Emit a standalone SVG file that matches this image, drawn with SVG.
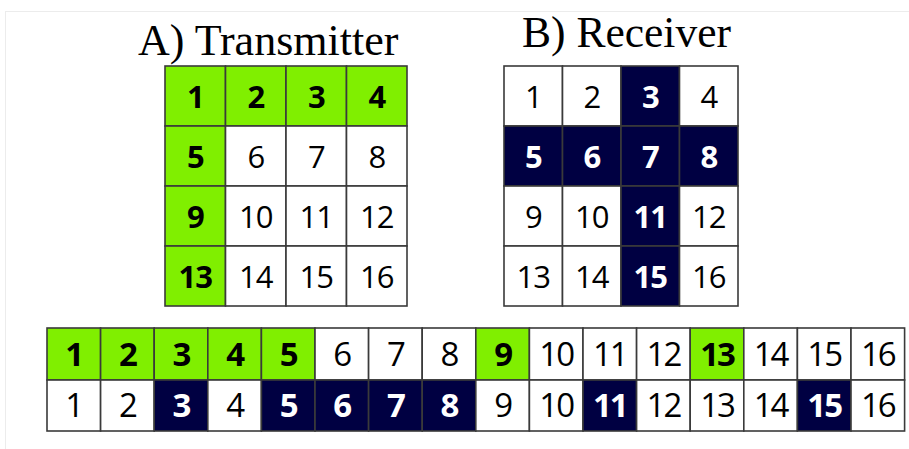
<svg xmlns="http://www.w3.org/2000/svg" width="909" height="449" viewBox="0 0 909 449">
<style>
.frame{fill:none;stroke:#ececec;stroke-width:1}
.title{font-family:"Liberation Serif","Times New Roman",serif;font-size:44px;fill:#000}
.c{stroke:#3a3a3a;stroke-width:1.6}
.w{fill:#ffffff}
.g{fill:#80ef00}
.n{fill:#000042}
.t{font-family:"Open Sans","Noto Sans",sans-serif;text-anchor:middle;fill:#000}
.tb{font-weight:bold}
.tw{fill:#ffffff;font-weight:bold}
.s32{font-size:31px;letter-spacing:-1px}
.s34{font-size:33px;letter-spacing:-2px}
</style>
<rect class="frame" x="5.5" y="11.5" width="910" height="450"/>
<text class="title" x="138" y="55">A) Transmitter</text>
<text class="title" x="522" y="47" style="font-size:43.5px">B) Receiver</text>

<g id="transmitter">
<rect class="c g" x="165" y="66" width="60.5" height="60"/><text class="t tb s32" x="195.3" y="108">1</text>
<rect class="c g" x="225.5" y="66" width="60.5" height="60"/><text class="t tb s32" x="255.8" y="108">2</text>
<rect class="c g" x="286" y="66" width="60.5" height="60"/><text class="t tb s32" x="316.3" y="108">3</text>
<rect class="c g" x="346.5" y="66" width="60.5" height="60"/><text class="t tb s32" x="376.8" y="108">4</text>
<rect class="c g" x="165" y="126" width="60.5" height="60"/><text class="t tb s32" x="195.3" y="168">5</text>
<rect class="c w" x="225.5" y="126" width="60.5" height="60"/><text class="t s32" x="255.8" y="168">6</text>
<rect class="c w" x="286" y="126" width="60.5" height="60"/><text class="t s32" x="316.3" y="168">7</text>
<rect class="c w" x="346.5" y="126" width="60.5" height="60"/><text class="t s32" x="376.8" y="168">8</text>
<rect class="c g" x="165" y="186" width="60.5" height="60"/><text class="t tb s32" x="195.3" y="228">9</text>
<rect class="c w" x="225.5" y="186" width="60.5" height="60"/><text class="t s32" x="255.8" y="228">10</text>
<rect class="c w" x="286" y="186" width="60.5" height="60"/><text class="t s32" x="316.3" y="228">11</text>
<rect class="c w" x="346.5" y="186" width="60.5" height="60"/><text class="t s32" x="376.8" y="228">12</text>
<rect class="c g" x="165" y="246" width="60.5" height="60"/><text class="t tb s32" x="195.3" y="288">13</text>
<rect class="c w" x="225.5" y="246" width="60.5" height="60"/><text class="t s32" x="255.8" y="288">14</text>
<rect class="c w" x="286" y="246" width="60.5" height="60"/><text class="t s32" x="316.3" y="288">15</text>
<rect class="c w" x="346.5" y="246" width="60.5" height="60"/><text class="t s32" x="376.8" y="288">16</text>
</g>

<g id="receiver">
<rect class="c w" x="504" y="66" width="58.5" height="60"/><text class="t s32" x="533.3" y="108">1</text>
<rect class="c w" x="562.5" y="66" width="58.5" height="60"/><text class="t s32" x="591.8" y="108">2</text>
<rect class="c n" x="621" y="66" width="58.5" height="60"/><text class="t tw s32" x="650.3" y="108">3</text>
<rect class="c w" x="679.5" y="66" width="58.5" height="60"/><text class="t s32" x="708.8" y="108">4</text>
<rect class="c n" x="504" y="126" width="58.5" height="60"/><text class="t tw s32" x="533.3" y="168">5</text>
<rect class="c n" x="562.5" y="126" width="58.5" height="60"/><text class="t tw s32" x="591.8" y="168">6</text>
<rect class="c n" x="621" y="126" width="58.5" height="60"/><text class="t tw s32" x="650.3" y="168">7</text>
<rect class="c n" x="679.5" y="126" width="58.5" height="60"/><text class="t tw s32" x="708.8" y="168">8</text>
<rect class="c w" x="504" y="186" width="58.5" height="60"/><text class="t s32" x="533.3" y="228">9</text>
<rect class="c w" x="562.5" y="186" width="58.5" height="60"/><text class="t s32" x="591.8" y="228">10</text>
<rect class="c n" x="621" y="186" width="58.5" height="60"/><text class="t tw s32" x="650.3" y="228">11</text>
<rect class="c w" x="679.5" y="186" width="58.5" height="60"/><text class="t s32" x="708.8" y="228">12</text>
<rect class="c w" x="504" y="246" width="58.5" height="60"/><text class="t s32" x="533.3" y="288">13</text>
<rect class="c w" x="562.5" y="246" width="58.5" height="60"/><text class="t s32" x="591.8" y="288">14</text>
<rect class="c n" x="621" y="246" width="58.5" height="60"/><text class="t tw s32" x="650.3" y="288">15</text>
<rect class="c w" x="679.5" y="246" width="58.5" height="60"/><text class="t s32" x="708.8" y="288">16</text>
</g>

<g id="tx-sequence">
<rect class="c g" x="47" y="328" width="53.6" height="52"/><text class="t tb s34" x="73.8" y="366">1</text>
<rect class="c g" x="100.6" y="328" width="53.6" height="52"/><text class="t tb s34" x="127.4" y="366">2</text>
<rect class="c g" x="154.2" y="328" width="53.6" height="52"/><text class="t tb s34" x="181" y="366">3</text>
<rect class="c g" x="207.8" y="328" width="53.6" height="52"/><text class="t tb s34" x="234.6" y="366">4</text>
<rect class="c g" x="261.4" y="328" width="53.6" height="52"/><text class="t tb s34" x="288.2" y="366">5</text>
<rect class="c w" x="315" y="328" width="53.6" height="52"/><text class="t s34" x="341.8" y="366">6</text>
<rect class="c w" x="368.6" y="328" width="53.6" height="52"/><text class="t s34" x="395.4" y="366">7</text>
<rect class="c w" x="422.2" y="328" width="53.6" height="52"/><text class="t s34" x="449" y="366">8</text>
<rect class="c g" x="475.8" y="328" width="53.6" height="52"/><text class="t tb s34" x="502.6" y="366">9</text>
<rect class="c w" x="529.4" y="328" width="53.6" height="52"/><text class="t s34" x="556.2" y="366">10</text>
<rect class="c w" x="583" y="328" width="53.6" height="52"/><text class="t s34" x="609.8" y="366">11</text>
<rect class="c w" x="636.6" y="328" width="53.6" height="52"/><text class="t s34" x="663.4" y="366">12</text>
<rect class="c g" x="690.2" y="328" width="53.6" height="52"/><text class="t tb s34" x="717" y="366">13</text>
<rect class="c w" x="743.8" y="328" width="53.6" height="52"/><text class="t s34" x="770.6" y="366">14</text>
<rect class="c w" x="797.4" y="328" width="53.6" height="52"/><text class="t s34" x="824.2" y="366">15</text>
<rect class="c w" x="851" y="328" width="53.6" height="52"/><text class="t s34" x="877.8" y="366">16</text>
</g>

<g id="rx-sequence">
<rect class="c w" x="47" y="380" width="53.6" height="51"/><text class="t s34" x="73.8" y="417">1</text>
<rect class="c w" x="100.6" y="380" width="53.6" height="51"/><text class="t s34" x="127.4" y="417">2</text>
<rect class="c n" x="154.2" y="380" width="53.6" height="51"/><text class="t tw s34" x="181" y="417">3</text>
<rect class="c w" x="207.8" y="380" width="53.6" height="51"/><text class="t s34" x="234.6" y="417">4</text>
<rect class="c n" x="261.4" y="380" width="53.6" height="51"/><text class="t tw s34" x="288.2" y="417">5</text>
<rect class="c n" x="315" y="380" width="53.6" height="51"/><text class="t tw s34" x="341.8" y="417">6</text>
<rect class="c n" x="368.6" y="380" width="53.6" height="51"/><text class="t tw s34" x="395.4" y="417">7</text>
<rect class="c n" x="422.2" y="380" width="53.6" height="51"/><text class="t tw s34" x="449" y="417">8</text>
<rect class="c w" x="475.8" y="380" width="53.6" height="51"/><text class="t s34" x="502.6" y="417">9</text>
<rect class="c w" x="529.4" y="380" width="53.6" height="51"/><text class="t s34" x="556.2" y="417">10</text>
<rect class="c n" x="583" y="380" width="53.6" height="51"/><text class="t tw s34" x="609.8" y="417">11</text>
<rect class="c w" x="636.6" y="380" width="53.6" height="51"/><text class="t s34" x="663.4" y="417">12</text>
<rect class="c w" x="690.2" y="380" width="53.6" height="51"/><text class="t s34" x="717" y="417">13</text>
<rect class="c w" x="743.8" y="380" width="53.6" height="51"/><text class="t s34" x="770.6" y="417">14</text>
<rect class="c n" x="797.4" y="380" width="53.6" height="51"/><text class="t tw s34" x="824.2" y="417">15</text>
<rect class="c w" x="851" y="380" width="53.6" height="51"/><text class="t s34" x="877.8" y="417">16</text>
</g>
</svg>
